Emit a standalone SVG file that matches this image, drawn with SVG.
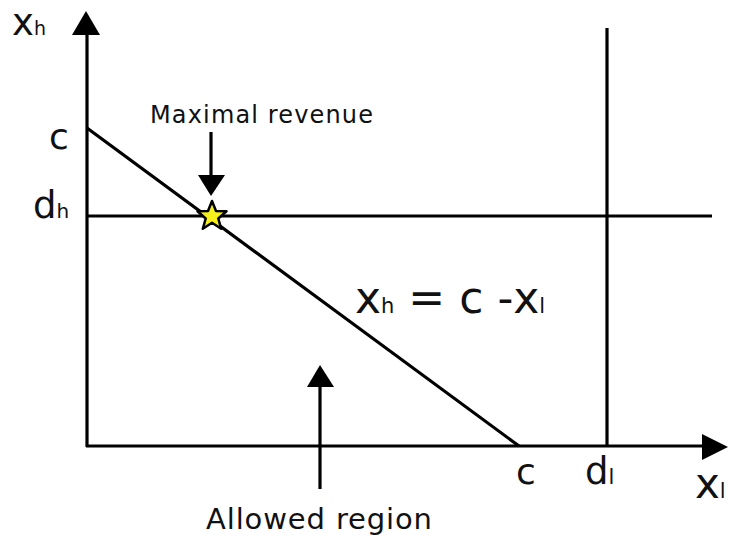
<svg xmlns="http://www.w3.org/2000/svg" width="729" height="535" viewBox="0 0 729 535">
<style>
.ln{stroke:#000;stroke-width:3.2;fill:none}
.t{font-family:"DejaVu Sans","Verdana",sans-serif;fill:#111}
.hd{fill:#000}
</style>
<rect width="729" height="535" fill="#fff"/>
<g id="connectors">
<line id="y-axis" class="ln" x1="87" y1="447" x2="87" y2="30"/>
<polygon class="hd" points="86,11 72,35 100,35"/>
<line id="x-axis" class="ln" x1="86" y1="446" x2="705" y2="446"/>
<polygon class="hd" points="728,447 702,434 702,460"/>
<line id="dh-line" class="ln" x1="87" y1="216" x2="712" y2="216"/>
<line id="dl-line" class="ln" x1="607" y1="28" x2="607" y2="446"/>
<line id="budget" class="ln" x1="87" y1="128" x2="519" y2="446"/>
<line id="max-arrow" class="ln" x1="211" y1="132" x2="211" y2="178"/>
<polygon class="hd" points="211,196 198,175 225,175"/>
<line id="allowed-arrow" class="ln" x1="320" y1="489" x2="320" y2="383"/>
<polygon class="hd" points="320,365 307,387 334,387"/>
</g>
<g id="star">
<polygon points="212,201 216,211 226.5,211.3 218.3,218.5 221.2,228.8 212,222.7 202.8,228.8 205.7,218.5 197.5,211.3 208,211" fill="#f5f01c" stroke="#000" stroke-width="2.5" stroke-linejoin="round"/>
</g>
<g id="axis-labels">
<text class="t" x="12" y="35" font-size="37">x<tspan font-size="19">h</tspan></text>
<text class="t" x="49" y="149" font-size="36">c</text>
<text class="t" x="33" y="218" font-size="37">d<tspan font-size="20">h</tspan></text>
<text class="t" x="516" y="484" font-size="36">c</text>
<text class="t" x="585" y="484" font-size="37">d<tspan font-size="21">l</tspan></text>
<text class="t" x="695" y="498" font-size="42">x<tspan font-size="21">l</tspan></text>
</g>
<g id="equation">
<text class="t" x="355" y="313" font-size="44">x<tspan font-size="21">h</tspan> = c -x<tspan font-size="21">l</tspan></text>
</g>
<g id="max-label">
<text class="t" x="150" y="123" font-size="24" textLength="223" lengthAdjust="spacing">Maximal revenue</text>
</g>
<g id="allowed-label">
<text class="t" x="206" y="529" font-size="29" textLength="226" lengthAdjust="spacing">Allowed region</text>
</g>
</svg>
